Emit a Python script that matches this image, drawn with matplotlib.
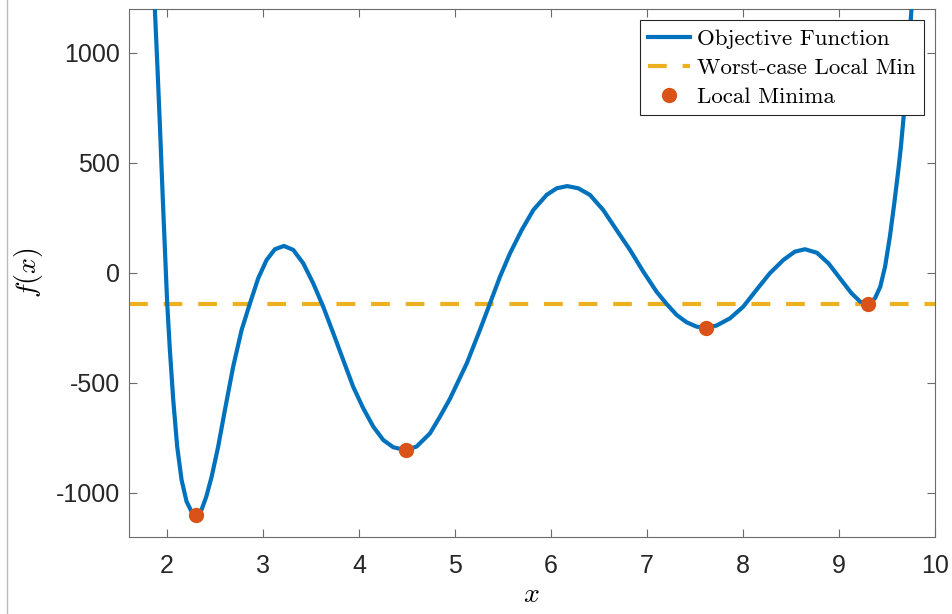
import matplotlib
matplotlib.use("Agg")
import matplotlib.pyplot as plt
from matplotlib.lines import Line2D

# sampled objective function f(x)
x_vals = [1.860, 1.875, 1.900, 1.930, 1.955, 1.979, 2.003, 2.031, 2.066, 2.107,
          2.153, 2.205, 2.257, 2.302, 2.360, 2.410, 2.466, 2.534, 2.604, 2.690,
          2.778, 2.865, 2.951, 3.038, 3.125, 3.219, 3.316, 3.420, 3.524, 3.628,
          3.733, 3.836, 3.940, 4.045, 4.149, 4.253, 4.357, 4.486, 4.600, 4.740,
          4.844, 4.950, 5.125, 5.260, 5.365, 5.469, 5.573, 5.695, 5.816, 5.955,
          6.060, 6.170, 6.285, 6.406, 6.545, 6.684, 6.823, 6.962, 7.100, 7.205,
          7.310, 7.413, 7.518, 7.610, 7.724, 7.865, 8.003, 8.140, 8.280, 8.420,
          8.540, 8.646, 8.770, 8.890, 9.010, 9.130, 9.220, 9.300, 9.375, 9.430,
          9.480, 9.530, 9.576, 9.618, 9.645, 9.690, 9.720, 9.755, 9.780]
f_vals = [1400, 1195, 950, 640, 360, 110, -138, -350, -577, -789,
          -941, -1039, -1085, -1100, -1077, -1017, -926, -789, -623, -426,
          -259, -138, -24, 59, 108, 123, 105, 44, -47, -153,
          -274, -395, -517, -615, -698, -759, -792, -805, -789, -729,
          -653, -570, -409, -259, -138, -17, 89, 195, 286, 355,
          385, 395, 385, 355, 286, 195, 105, 6, -85, -141,
          -191, -224, -244, -249, -239, -206, -153, -77, -1, 59,
          97, 108, 92, 44, -24, -92, -130, -141, -115, -62,
          29, 165, 317, 468, 575, 790, 975, 1200, 1380]

# local minima found by the search
min_x = [2.302, 4.486, 7.610, 9.300]
min_f = [-1100, -805, -249, -141]
worst_min = max(min_f)

x_ticks = [2, 3, 4, 5, 6, 7, 8, 9, 10]
y_ticks = [-1000, -500, 0, 500, 1000]

plt.rcParams['axes.unicode_minus'] = False
plt.rcParams['mathtext.fontset'] = 'cm'

fig = plt.figure(figsize=(9.53, 6.14), dpi=100)
ax = fig.add_axes([128.5 / 953, 1 - 537 / 614, (935 - 128.5) / 953, (537 - 9) / 614])

ax.plot(x_vals, f_vals, color='#0072BD', lw=3, solid_joinstyle='round',
        label='Objective Function', zorder=3)
ax.axhline(worst_min, color='#EDB120', lw=3, dashes=(4.5, 3.8),
           label='Worst-case Local Min', zorder=2)
ax.plot(min_x, min_f, 'o', color='#D95319', ms=10, label='Local Minima', zorder=4)

ax.set_xlim(1.6, 10)
ax.set_ylim(-1200, 1200)
ax.set_xticks(x_ticks)
ax.set_yticks(y_ticks)

for sp in ax.spines.values():
    sp.set_color('#6b6b6b')
    sp.set_linewidth(0.8)
ax.tick_params(direction='in', length=6, width=0.8, color='#6b6b6b',
               top=True, right=True, labelsize=18, labelcolor='#262626')
ax.tick_params(axis='x', pad=12)
ax.tick_params(axis='y', pad=6)
for lab in ax.get_xticklabels() + ax.get_yticklabels():
    lab.set_family('Liberation Sans')

ax.set_xlabel(r'$x$', fontsize=20, labelpad=2)
ax.set_ylabel(r'$f(x)$', fontsize=20, labelpad=8)

leg = ax.legend(loc='upper right', prop={'family': 'cmr10', 'size': 16.5},
                fancybox=False, framealpha=1, edgecolor='#262626',
                borderaxespad=0.5, borderpad=0.35, handlelength=1.85,
                handletextpad=0.3, labelspacing=0.4)
leg.get_frame().set_linewidth(0.8)

# thin border line down the left edge
fig.add_artist(Line2D([7 / 953, 7 / 953], [0, 1], transform=fig.transFigure,
                      color='#bbbbbb', lw=1))

fig.savefig('out.png', dpi=100)
